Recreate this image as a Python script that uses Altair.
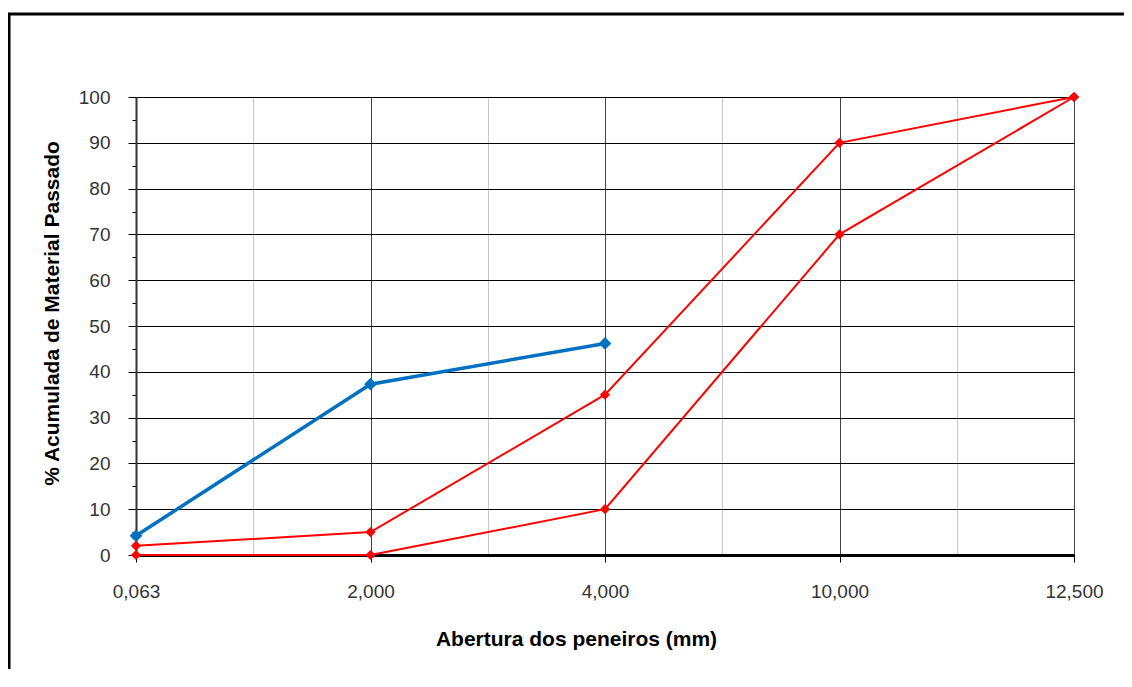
import json
import altair as alt
import pandas as pd

# ---- data ----
peneiros = ["0,063", "2,000", "4,000", "10,000", "12,500"]
amostra = [4.2, 37.3, 46.2]
limite_superior = [2, 5, 35, 90, 100]
limite_inferior = [0, 0, 10, 70, 100]

rows = []
for serie, vals in [("Amostra", amostra), ("Limite superior", limite_superior),
                    ("Limite inferior", limite_inferior)]:
    for i, v in enumerate(vals):
        rows.append({"idx": i, "peneiro": peneiros[i], "serie": serie, "valor": v})
df = pd.DataFrame(rows)

FONT = "Liberation Sans"
label_expr = ("datum.value % 1 === 0 ? " + json.dumps(peneiros) +
              "[datum.value] : ''")

x_enc = alt.X(
    "idx:Q",
    scale=alt.Scale(domain=[0, len(peneiros) - 1], nice=False, zero=False),
    axis=alt.Axis(
        values=[i * 0.5 for i in range(2 * (len(peneiros) - 1) + 1)],
        labelExpr=label_expr,
        title="Abertura dos peneiros (mm)",
        titleFont=FONT, titleFontSize=21, titleFontWeight="bold", titleColor="#000",
        titlePadding=27, titleX=440,
        labelFont=FONT, labelFontSize=19, labelColor="#333", labelPadding=20,
        labelFlush=False,
        domainColor="#000", domainWidth=3,
        tickColor="#000",
        tickSize={"condition": {"test": "datum.value % 1 === 0", "value": 7}, "value": 0},
        grid=True,
        gridColor={"condition": {"test": "datum.value % 1 === 0", "value": "#444444"},
                   "value": "#c8c8c8"},
        gridWidth=1,
    ),
)

y_enc = alt.Y(
    "valor:Q",
    scale=alt.Scale(domain=[0, 100], nice=False),
    axis=alt.Axis(
        values=list(range(0, 101, 5)),
        labelExpr="datum.value % 10 === 0 ? datum.label : ''",
        title="% Acumulada de Material Passado",
        titleFont=FONT, titleFontSize=21, titleFontWeight="bold", titleColor="#000",
        titlePadding=16, titleY=216,
        labelFont=FONT, labelFontSize=19, labelColor="#333", labelPadding=18,
        domainColor="#333", domainWidth=2,
        tickColor="#000",
        tickSize={"condition": {"test": "datum.value % 10 === 0", "value": 8}, "value": 4},
        grid=True,
        gridColor={"condition": {"test": "datum.value % 10 === 0", "value": "#000000"},
                   "value": "transparent"},
        gridWidth=1,
    ),
)

base = alt.Chart(df)

blue = base.transform_filter(alt.datum.serie == "Amostra").mark_line(
    color="#0070C0", strokeWidth=3.5,
    point=alt.OverlayMarkDef(shape="diamond", size=160, color="#0070C0", filled=True),
).encode(x=x_enc, y=y_enc)

red = base.transform_filter(alt.datum.serie != "Amostra").mark_line(
    color="#FF0000", strokeWidth=2,
    point=alt.OverlayMarkDef(shape="diamond", size=105, color="#FF0000", filled=True),
).encode(x=x_enc, y=y_enc, detail="serie:N")

frame = alt.Chart(pd.DataFrame({"a": [0]})).mark_rect(
    fill="transparent", stroke="#000", strokeWidth=3
).encode(
    x=alt.value(-127), y=alt.value(-83),
    x2=alt.value(1200), y2=alt.value(800),
)

chart = alt.layer(frame, blue, red).properties(
    width=938, height=458,
    autosize=alt.AutoSizeParams(type="none"),
    padding={"left": 128, "top": 89, "right": 50, "bottom": 114},
).configure_view(
    stroke="#808080", strokeWidth=2
).configure(background="white")

chart.save("out.html", embed_options={"renderer": "svg", "actions": False})
